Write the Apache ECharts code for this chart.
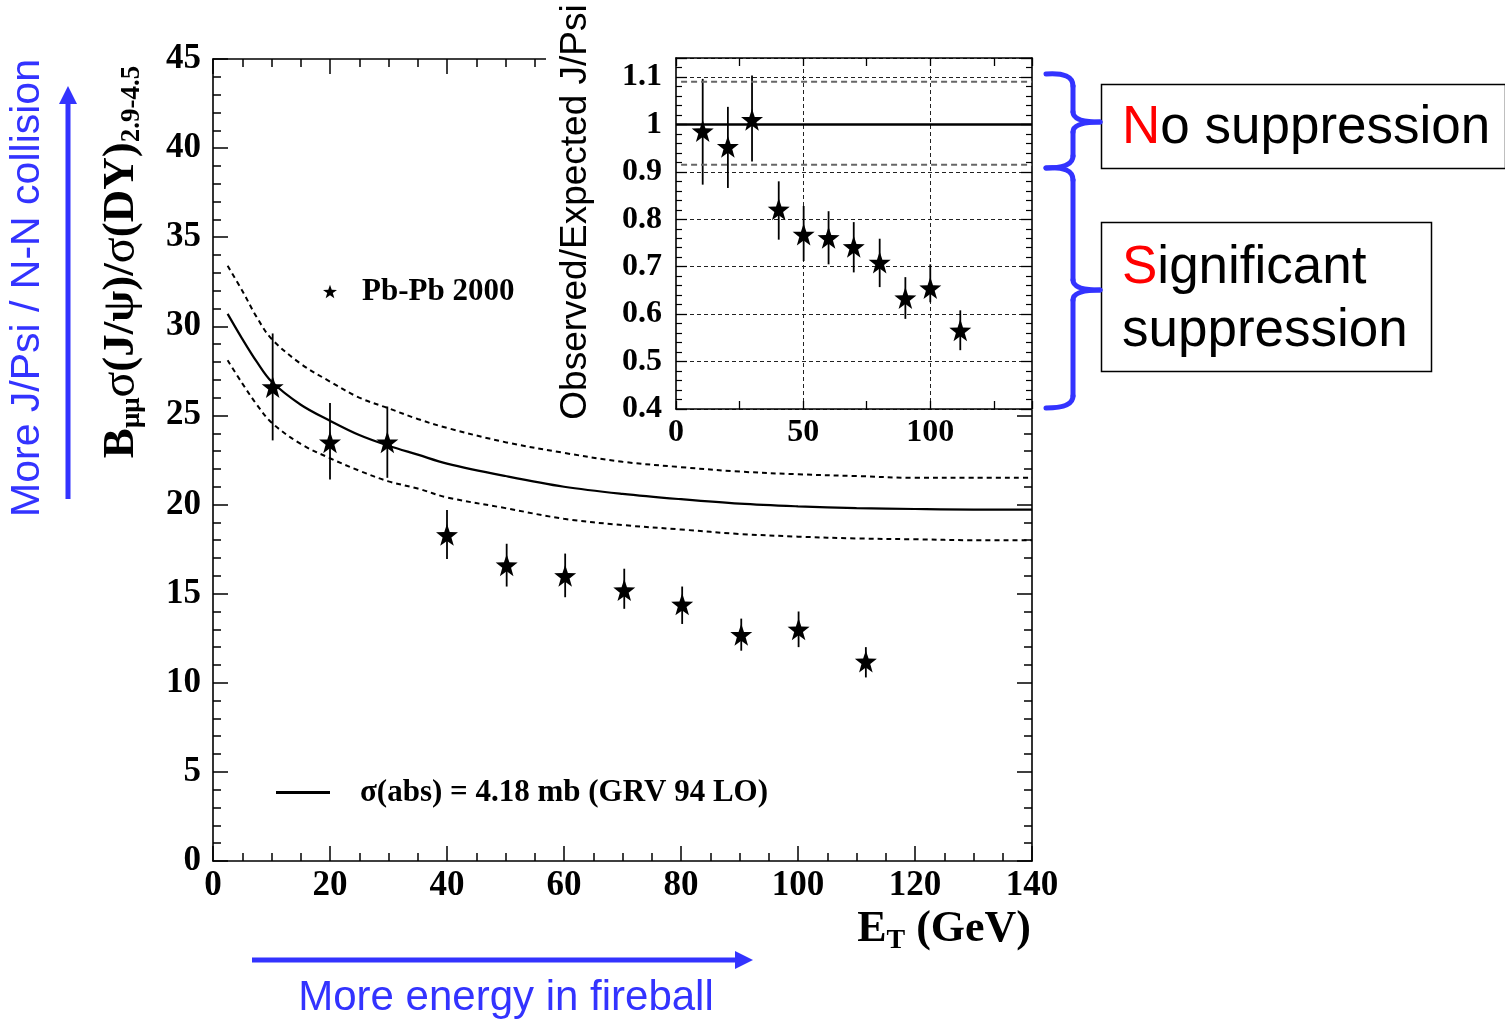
<!DOCTYPE html>
<html>
<head>
<meta charset="utf-8">
<script src="https://cdn.jsdelivr.net/npm/echarts@6/dist/echarts.min.js"></script>
<style>
html,body{margin:0;padding:0;background:#fff;}
#main{width:1505px;height:1020px;}
</style>
</head>
<body>
<div id="main"></div>
<script>
// main panel: J/psi / DY ratio vs E_T (Pb-Pb 2000)
var etMain = [10.2, 20.0, 29.8, 40.0, 50.2, 60.2, 70.3, 80.2, 90.3, 100.1, 111.6];
var ratioMain = [26.6, 23.5, 23.5, 18.3, 16.6, 16.0, 15.2, 14.4, 12.7, 13.0, 11.2];
var ratioMainHi = [29.6, 25.7, 25.5, 19.7, 17.8, 17.25, 16.4, 15.4, 13.6, 14.0, 12.0];
var ratioMainLo = [23.6, 21.4, 21.5, 16.95, 15.4, 14.8, 14.15, 13.3, 11.8, 12.0, 10.3];

// absorption curve (sigma_abs = 4.18 mb) and its band
var etCurve = [2.5, 5, 7.5, 10, 15, 20, 25, 30, 35, 40, 50, 60, 70, 80, 90, 100, 110, 120, 130, 140];
var absCurve = [30.7, 29.3, 28.0, 26.9, 25.6, 24.7, 23.9, 23.3, 22.8, 22.3, 21.6, 21.0, 20.6, 20.3, 20.05, 19.9, 19.8, 19.75, 19.72, 19.72];
var absUpper = [33.4, 32.0, 30.5, 29.3, 27.9, 26.9, 26.0, 25.4, 24.8, 24.3, 23.5, 22.9, 22.4, 22.1, 21.85, 21.7, 21.6, 21.5, 21.5, 21.5];
var absLower = [28.1, 26.8, 25.6, 24.6, 23.4, 22.6, 21.9, 21.3, 20.9, 20.4, 19.8, 19.2, 18.85, 18.6, 18.35, 18.2, 18.1, 18.05, 18.0, 18.0];

// inset: observed / expected
var etInset = [10.5, 20.4, 29.9, 40.4, 50.2, 60.0, 69.9, 80.1, 90.2, 100.0, 111.8];
var obsExp = [0.986, 0.953, 1.010, 0.821, 0.768, 0.761, 0.742, 0.709, 0.634, 0.655, 0.566];
var obsExpHi = [1.096, 1.037, 1.103, 0.880, 0.828, 0.817, 0.794, 0.759, 0.678, 0.705, 0.608];
var obsExpLo = [0.873, 0.866, 0.922, 0.757, 0.712, 0.705, 0.688, 0.657, 0.590, 0.625, 0.524];
var insetUnity = [[0, 1], [140, 1]];
var insetBandHi = [[2, 1.09], [140, 1.09]];
var insetBandLo = [[2, 0.915], [140, 0.915]];

var STAR = 'path://M0,-10L2.35,-3.24L9.51,-3.09L3.8,1.24L5.88,8.09L0,4L-5.88,8.09L-3.8,1.24L-9.51,-3.09L-2.35,-3.24Z';
var SERIF = "'Liberation Serif','Times New Roman',serif";
var SANS = "'Liberation Sans',Arial,sans-serif";
var BLUE = '#3333ff';

function pairs(xs, ys) {
	var out = [];
	for (var i = 0; i < xs.length; i++) out.push([xs[i], ys[i]]);
	return out;
}
function bars(xs, lo, hi) {
	var out = [];
	for (var i = 0; i < xs.length; i++) out.push([xs[i], lo[i], hi[i]]);
	return out;
}
function errBar(params, api) {
	var a = api.coord([api.value(0), api.value(1)]);
	var b = api.coord([api.value(0), api.value(2)]);
	return {type: 'line', shape: {x1: a[0], y1: a[1], x2: b[0], y2: b[1]}, style: {stroke: '#000', lineWidth: 1.8}};
}

// curly brace from (x0,top) to (x0,bottom), spine at xs, tip at (xt,ym)
function brace(x0, xs, xt, top, ym, bottom) {
	var st = {stroke: BLUE, lineWidth: 5, fill: null, lineCap: 'round'};
	var segs = [
		{type: 'bezierCurve', shape: {x1: x0, y1: top, cpx1: xs, cpy1: top - 2, x2: xs, y2: top + 12}},
		{type: 'line', shape: {x1: xs, y1: top + 12, x2: xs, y2: ym - 10}},
		{type: 'bezierCurve', shape: {x1: xs, y1: ym - 10, cpx1: xs, cpy1: ym, x2: xt, y2: ym}},
		{type: 'bezierCurve', shape: {x1: xt, y1: ym, cpx1: xs, cpy1: ym, x2: xs, y2: ym + 10}},
		{type: 'line', shape: {x1: xs, y1: ym + 10, x2: xs, y2: bottom - 12}},
		{type: 'bezierCurve', shape: {x1: xs, y1: bottom - 12, cpx1: xs, cpy1: bottom, x2: x0, y2: bottom}}
	];
	for (var i = 0; i < segs.length; i++) { segs[i].style = st; segs[i].z = 5; }
	return segs;
}

var tickMain = {show: true, inside: true, length: 15, lineStyle: {color: '#000', width: 1.5}};
var minorMain = {show: true, length: 8, lineStyle: {color: '#000', width: 1.5}};
var lineAx = {show: true, onZero: false, lineStyle: {color: '#000', width: 1.6}};
var mainLabel = {fontFamily: SERIF, fontWeight: 'bold', fontSize: 35, color: '#000'};

function mainX(pos, labels) {
	return {gridIndex: 0, type: 'value', position: pos, min: 0, max: 140, interval: 20, z: 1,
		axisLine: lineAx, axisTick: tickMain, minorTick: Object.assign({splitNumber: 4}, minorMain),
		splitLine: {show: false}, axisLabel: Object.assign({show: labels, margin: 7}, mainLabel)};
}
function mainY(pos, labels) {
	return {gridIndex: 0, type: 'value', position: pos, min: 0, max: 45, interval: 5, z: 1,
		axisLine: lineAx, axisTick: tickMain, minorTick: Object.assign({splitNumber: 5}, minorMain),
		splitLine: {show: false}, axisLabel: Object.assign({show: labels, margin: 12}, mainLabel)};
}
var insetTick = {show: true, inside: true, length: 8, lineStyle: {color: '#000', width: 1.3}};
var insetLabel = {fontFamily: SERIF, fontWeight: 'bold', fontSize: 32, color: '#000'};
function insetX(pos, labels) {
	return {gridIndex: 1, type: 'value', position: pos, min: 0, max: 140, interval: 25, z: 6,
		axisLine: lineAx, axisTick: insetTick, splitLine: {show: false},
		axisLabel: Object.assign({show: labels, margin: 8, formatter: function (v) { return v % 50 === 0 ? String(v) : ''; }}, insetLabel)};
}
function insetY(pos, labels) {
	return {gridIndex: 1, type: 'value', position: pos, min: 0.4, max: 1.14, interval: 0.1, z: 6,
		axisLine: lineAx, axisTick: {show: true, inside: true, length: 11, lineStyle: {color: '#000', width: 1.3}},
		minorTick: {show: true, splitNumber: 5, length: 6, lineStyle: {color: '#000', width: 1.2}},
		splitLine: {show: labels, lineStyle: {color: '#222', width: 1, type: [4, 3]}},
		axisLabel: Object.assign({show: labels, margin: 14, formatter: function (v) {
			var t = Math.round(v * 10);
			return Math.abs(v * 10 - t) < 1e-6 ? String(t / 10) : '';
		}}, insetLabel)};
}

var dom = document.getElementById('main');
var myChart = echarts.init(dom, null, {renderer: 'canvas'});

var graphics = [
	// white backing for the inset
	{type: 'rect', shape: {x: 546, y: 30, width: 490, height: 380}, style: {fill: '#fff'}, z: 4},
	// main y title
	{type: 'text', x: 121, y: 262, rotation: Math.PI / 2, z: 5,
		style: {text: '{b|B}{s|μμ}{g|σ}{b|(J/ψ)/}{g|σ}{b|(DY)}{s|2.9-4.5}', align: 'center', verticalAlign: 'middle',
			rich: {
				b: {fontFamily: SERIF, fontWeight: 'bold', fontSize: 45, lineHeight: 50, fill: '#000'},
				g: {fontFamily: SERIF, fontSize: 48, lineHeight: 50, fill: '#000'},
				s: {fontFamily: SERIF, fontWeight: 'bold', fontSize: 27, lineHeight: 20, verticalAlign: 'bottom', fill: '#000'}
			}}},
	// main x title
	{type: 'text', x: 1031, y: 930, z: 5,
		style: {text: '{b|E}{s|T}{b| (GeV)}', align: 'right', verticalAlign: 'middle',
			rich: {
				b: {fontFamily: SERIF, fontWeight: 'bold', fontSize: 44, lineHeight: 50, fill: '#000'},
				s: {fontFamily: SERIF, fontWeight: 'bold', fontSize: 28, lineHeight: 22, verticalAlign: 'bottom', fill: '#000'}
			}}},
	// inset y title
	{type: 'text', x: 576, y: 212, rotation: Math.PI / 2, z: 6,
		style: {text: 'Observed/Expected J/Psi', align: 'center', verticalAlign: 'middle',
			font: '37px ' + SANS, fill: '#000'}},
	// blue annotations
	{type: 'text', x: 28, y: 288, rotation: Math.PI / 2, z: 5,
		style: {text: 'More J/Psi / N-N collision', align: 'center', verticalAlign: 'middle',
			font: '41px ' + SANS, fill: BLUE}},
	{type: 'line', shape: {x1: 68, y1: 499, x2: 68, y2: 100}, style: {stroke: BLUE, lineWidth: 5}, z: 5},
	{type: 'polygon', shape: {points: [[59, 104], [77, 104], [68, 86]]}, style: {fill: BLUE}, z: 5},
	{type: 'line', shape: {x1: 252, y1: 960, x2: 738, y2: 960}, style: {stroke: BLUE, lineWidth: 5}, z: 5},
	{type: 'polygon', shape: {points: [[735, 951], [735, 969], [753, 960]]}, style: {fill: BLUE}, z: 5},
	{type: 'text', x: 506, y: 998, z: 5,
		style: {text: 'More energy in fireball', align: 'center', verticalAlign: 'middle',
			font: '42px ' + SANS, fill: BLUE}},
	// boxes
	{type: 'rect', z: 5, shape: {x: 1101.5, y: 84.5, width: 404, height: 84}, style: {stroke: '#000', lineWidth: 1.5, fill: null}},
	{type: 'text', x: 1122, y: 128, z: 5,
		style: {text: '{r|N}{k|o suppression}', align: 'left', verticalAlign: 'middle',
			rich: {r: {font: '53px ' + SANS, fill: '#ff0000'}, k: {font: '53px ' + SANS, fill: '#000'}}}},
	{type: 'rect', z: 5, shape: {x: 1101.5, y: 222.5, width: 330, height: 149}, style: {stroke: '#000', lineWidth: 1.5, fill: null}},
	{type: 'text', x: 1122, y: 268, z: 5,
		style: {text: '{r|S}{k|ignificant}', align: 'left', verticalAlign: 'middle',
			rich: {r: {font: '53px ' + SANS, fill: '#ff0000'}, k: {font: '53px ' + SANS, fill: '#000'}}}},
	{type: 'text', x: 1122, y: 331, z: 5,
		style: {text: 'suppression', align: 'left', verticalAlign: 'middle', font: '53px ' + SANS, fill: '#000'}}
];
graphics = graphics.concat(brace(1046, 1073, 1100, 74, 122, 168), brace(1046, 1073, 1100, 168, 290, 408));

var curveStyle = {smooth: 0.35, showSymbol: false, z: 2, xAxisIndex: 0, yAxisIndex: 0};

var option = {
	backgroundColor: '#fff',
	animation: false,
	grid: [
		{left: 213, top: 59, width: 819, height: 802, show: false},
		{left: 676, top: 58, width: 356, height: 351, show: false}
	],
	xAxis: [mainX('bottom', true), mainX('top', false), insetX('bottom', true), insetX('top', false)],
	yAxis: [mainY('left', true), mainY('right', false), insetY('left', true), insetY('right', false)],
	legend: [
		{data: [{name: 'Pb-Pb 2000', icon: STAR}], left: 323, top: 276, padding: 0, selectedMode: false,
			itemWidth: 14, itemHeight: 14,
			textStyle: {fontFamily: SERIF, fontWeight: 'bold', fontSize: 31, color: '#000', lineHeight: 30, padding: [0, 0, 0, 20]}},
		{data: [{name: 'σ(abs) = 4.18 mb (GRV 94 LO)', icon: 'rect'}], left: 276, top: 777, padding: 0, selectedMode: false,
			itemWidth: 54, itemHeight: 3,
			textStyle: {fontFamily: SERIF, fontWeight: 'bold', fontSize: 31, color: '#000', lineHeight: 30, padding: [0, 0, 0, 25]}}
	],
	series: [
		Object.assign({type: 'line', data: pairs(etCurve, absUpper),
			lineStyle: {color: '#000', width: 2, type: [5, 4]}, itemStyle: {color: '#000'}}, curveStyle),
		Object.assign({type: 'line', data: pairs(etCurve, absLower),
			lineStyle: {color: '#000', width: 2, type: [5, 4]}, itemStyle: {color: '#000'}}, curveStyle),
		Object.assign({name: 'σ(abs) = 4.18 mb (GRV 94 LO)', type: 'line', data: pairs(etCurve, absCurve),
			lineStyle: {color: '#000', width: 2.2}, itemStyle: {color: '#000'}}, curveStyle),
		{type: 'custom', xAxisIndex: 0, yAxisIndex: 0, data: bars(etMain, ratioMainLo, ratioMainHi),
			encode: {x: 0, y: [1, 2]}, renderItem: errBar, z: 2},
		{name: 'Pb-Pb 2000', type: 'scatter', xAxisIndex: 0, yAxisIndex: 0, data: pairs(etMain, ratioMain),
			symbol: STAR, symbolSize: 22, itemStyle: {color: '#000', opacity: 1}, z: 3},

		{type: 'line', xAxisIndex: 2, yAxisIndex: 2, data: insetUnity, showSymbol: false, z: 7,
			lineStyle: {color: '#000', width: 2.5},
			markLine: {silent: true, symbol: ['none', 'none'], label: {show: false},
				lineStyle: {color: '#222', width: 1, type: [4, 3]}, data: [{xAxis: 50}, {xAxis: 100}]}},
		{type: 'line', xAxisIndex: 2, yAxisIndex: 2, data: insetBandHi, showSymbol: false, z: 7,
			lineStyle: {color: '#666', width: 2, type: [6, 4]}},
		{type: 'line', xAxisIndex: 2, yAxisIndex: 2, data: insetBandLo, showSymbol: false, z: 7,
			lineStyle: {color: '#666', width: 2, type: [6, 4]}},
		{type: 'custom', xAxisIndex: 2, yAxisIndex: 2, data: bars(etInset, obsExpLo, obsExpHi),
			encode: {x: 0, y: [1, 2]}, renderItem: errBar, z: 7},
		{type: 'scatter', xAxisIndex: 2, yAxisIndex: 2, data: pairs(etInset, obsExp),
			symbol: STAR, symbolSize: 22, itemStyle: {color: '#000', opacity: 1}, z: 8}
	],
	graphic: graphics
};
if (option && typeof option === "object") {
	myChart.setOption(option, true);
}
</script>
</body>
</html>
